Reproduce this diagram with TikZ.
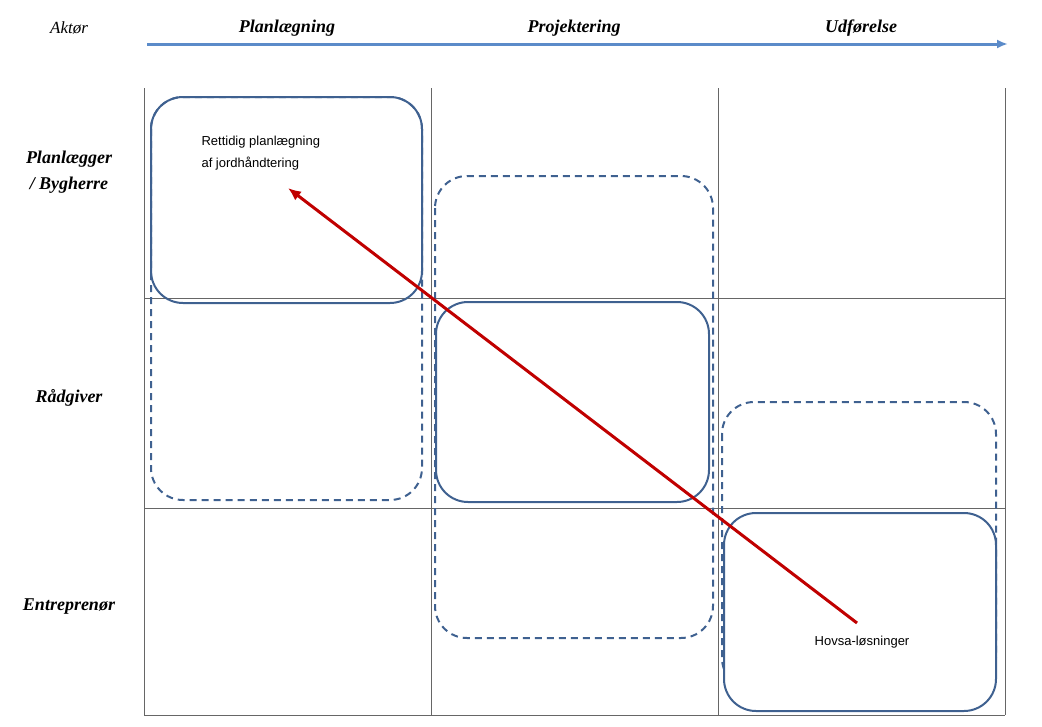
\documentclass[tikz,border=0pt]{standalone}
\usepackage{fontspec}
\usetikzlibrary{arrows.meta}
\setmainfont{Liberation Serif}
\newfontfamily\sansf{Liberation Sans}
\begin{document}
\begin{tikzpicture}[x=1pt,y=-1pt,
  grid/.style={draw=gray!80!black,line width=0.6pt},
  box/.style={draw=boxc,line width=2pt,rounded corners=32pt},
  dbox/.style={box,dash pattern=on 7pt off 5pt},
  hdr/.style={font=\bfseries\itshape\fontsize{18}{21}\selectfont,align=center},
  lbl/.style={font=\sansf\fontsize{13}{22}\selectfont,align=left}]
\definecolor{boxc}{HTML}{3F6190}
\definecolor{arrc}{HTML}{C00000}
\definecolor{blu}{HTML}{5B8BC9}
\useasboundingbox (0,0) rectangle (1042,726);
% grid
\foreach \x in {144,431,718,1005} \draw[grid] (\x,88) -- (\x,715);
\draw[grid] (144,298) -- (1005,298);
\draw[grid] (144,508) -- (1005,508);
\draw[grid] (144,715) -- (1005,715);
% header
\node[font=\itshape\fontsize{17}{20}\selectfont] (akt) at (69,28) {Aktør};
\node[hdr] (h1) at (287,28) {Planlægning};
\node[hdr] (h2) at (574,28) {Projektering};
\node[hdr] (h3) at (861,28) {Udførelse};
\coordinate (ta) at (147,44); \coordinate (tb) at (1008,44);
\draw[blu,line width=3pt,-{Latex[length=11pt,width=9pt]}] (ta) -- (tb);
\node[hdr] (r1) at (69,172) {Planlægger\\[5pt]/ Bygherre};
\node[hdr] (r2) at (69,398) {Rådgiver};
\node[hdr] (r3) at (69,607) {Entreprenør};
% boxes
\draw[dbox] (151,97) rectangle (422,500);
\draw[box] (151,97) rectangle (422,303);
\draw[dbox] (435,176) rectangle (713,638);
\draw[box] (436,302) rectangle (709,502);
\draw[dbox] (722,402) rectangle (996,690);
\draw[box,fill=white] (724,513) rectangle (996,711);
\node[lbl,anchor=north west] (t1) at (198,133) {Rettidig planlægning\\af jordhåndtering};
\node[lbl] (t2) at (862,642) {Hovsa-løsninger};
\coordinate (a1) at (857,623); \coordinate (a2) at (288,188);
\draw[arrc,line width=3pt,-{Latex[length=13pt,width=11pt]}] (a1) -- (a2);
\end{tikzpicture}
\end{document}
